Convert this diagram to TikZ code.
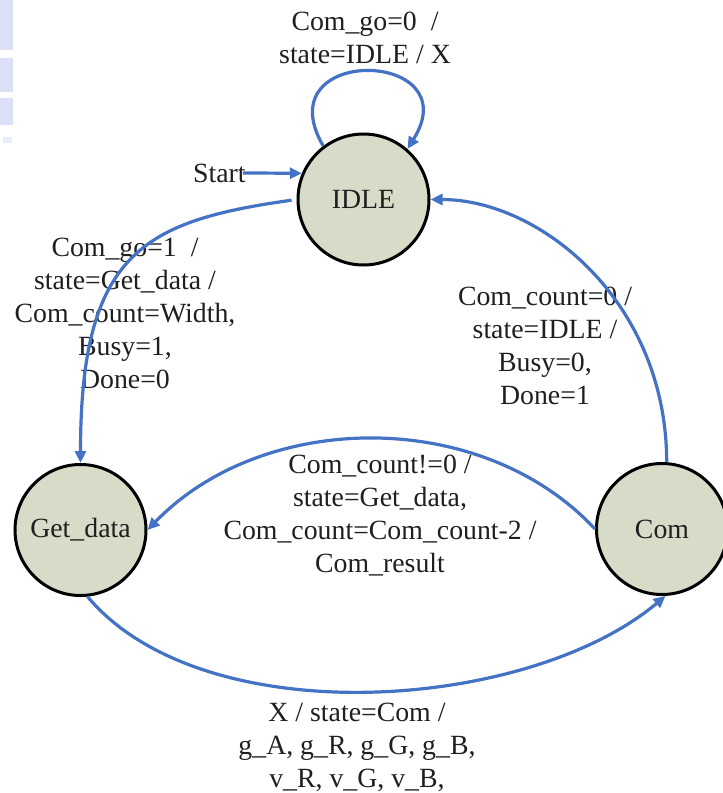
\documentclass[tikz,border=0pt]{standalone}
\usepackage{fontspec}
\setmainfont{Liberation Serif}
\usetikzlibrary{arrows.meta}
\definecolor{statefill}{RGB}{215,220,201}
\definecolor{edgeblue}{RGB}{68,114,196}
\definecolor{scanblue}{RGB}{220,225,248}

\begin{document}
\begin{tikzpicture}[x=1pt,y=-1pt,
  every node/.style={font=\fontsize{27.8}{33}\selectfont, text=black!88},
  statenode/.style={circle, draw=black, line width=3pt, fill=statefill,
    minimum size=131pt, inner sep=0pt},
  edgelabel/.style={align=center, inner sep=0pt, anchor=north},
  trans/.style={draw=edgeblue, line width=3.2pt,
    -{Triangle[length=12pt,width=11pt]}},
]
\useasboundingbox (0,0) rectangle (723,793);

% faint marks along the left edge
\fill[scanblue] (0,0) rectangle (13,50);
\fill[scanblue] (0,58) rectangle (13,92);
\fill[scanblue] (0,98) rectangle (13,125);
\fill[scanblue!60] (3,137) rectangle (12,143);

% states
\node[statenode] (IDLE) at (363.5,199.5) {IDLE};
\node[statenode] (getdata) at (80.5,530) {Get\_data};
\node[statenode] (com) at (662,529) {Com};

% transition labels
\node[edgelabel] (lblidle) at (365,12) {Com\_go=0~~/\\state=IDLE / X};
\node[edgelabel] (lblgo) at (125,238)
  {Com\_go=1~~/\\state=Get\_data /\\Com\_count=Width,\\Busy=1,\\Done=0};
\node[edgelabel] (lbldone) at (545,287)
  {Com\_count=0 /\\state=IDLE /\\Busy=0,\\Done=1};
\node[edgelabel] (lblloop) at (380,455)
  {Com\_count!=0 /\\state=Get\_data,\\Com\_count=Com\_count-2 /\\Com\_result};
\node[edgelabel] (lblcom) at (357,703)
  {X / state=Com /\\g\_A, g\_R, g\_G, g\_B,\\v\_R, v\_G, v\_B,};

% start marker
\node[anchor=base west, inner sep=0pt] (start) at (193,182) {Start};

% transitions
\draw[trans] ([xshift=-3pt]start.east) -- (IDLE.157);
\draw[trans] (IDLE.127) .. controls +(120:118pt) and +(58:118pt) .. (IDLE.49);
\draw[trans, shorten <=5pt] (IDLE.180) .. controls +(188:155pt) and +(90:210pt) .. (getdata.90);
\draw[trans] (com.86) .. controls +(90:160pt) and +(0:110pt) .. (IDLE.0);
\draw[trans] (com.180) to[out=133, in=46, looseness=0.95] (getdata.0);
\draw[trans] (getdata.-84) .. controls +(-50:180pt) and +(-140:180pt) .. (com.-87);
\end{tikzpicture}
\end{document}
